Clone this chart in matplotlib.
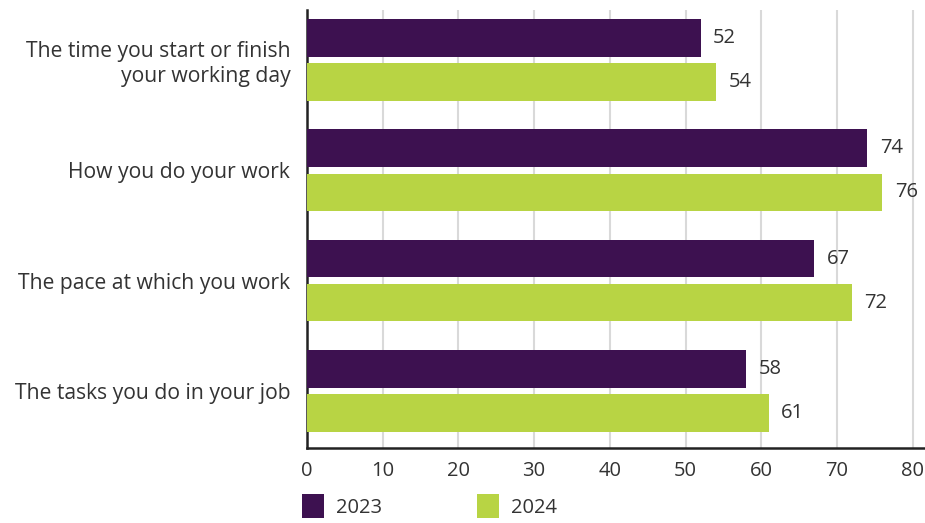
import matplotlib.pyplot as plt
from matplotlib.patches import Patch

categories = ["The time you start or finish\nyour working day",
              "How you do your work",
              "The pace at which you work",
              "The tasks you do in your job"]
series_names = ["2023", "2024"]
values_2023 = [52, 74, 67, 58]
values_2024 = [54, 76, 72, 61]
x_ticks = [0, 10, 20, 30, 40, 50, 60, 70, 80]

purple = "#3d1150"
green = "#b8d444"
text_color = "#333333"
fs = 14.5

plt.rcParams['font.family'] = ['Open Sans', 'DejaVu Sans']

fig = plt.figure(figsize=(9.25, 5.23), dpi=100)
ax = fig.add_axes([307 / 925, 1 - 448 / 523, (925 - 307) / 925, (448 - 10) / 523])

bar_h = 0.34
offset = 0.2
ys = list(range(len(categories)))
for vals, color, sign in [(values_2023, purple, -1), (values_2024, green, 1)]:
    pos = [y + sign * offset for y in ys]
    ax.barh(pos, vals, height=bar_h, color=color, zorder=3)
    for p, v in zip(pos, vals):
        ax.annotate(f"{v}", (v, p), xytext=(9, 0), textcoords="offset points",
                    va="center", ha="left", fontsize=fs, color=text_color)

ax.set_xlim(0, (925 - 307) / 7.57)
ax.set_ylim(3.517, -0.453)
ax.set_xticks(x_ticks)
ax.set_xticklabels([str(t) for t in x_ticks], fontsize=fs, color=text_color)
ax.set_yticks(ys)
ax.set_yticklabels(categories, fontsize=15.2, color=text_color, ha="right",
                   linespacing=1.25)
ax.tick_params(axis="both", length=0)
ax.tick_params(axis="y", pad=12)
ax.tick_params(axis="x", pad=9)

ax.grid(axis="x", color="#d9d9d9", linewidth=1.5, zorder=0)
for s in ["top", "right"]:
    ax.spines[s].set_visible(False)
for s in ["left", "bottom"]:
    ax.spines[s].set_color("#222222")
    ax.spines[s].set_linewidth(1.8)

handles = [Patch(facecolor=purple), Patch(facecolor=green)]
fig.legend(handles, series_names, loc="lower left", bbox_to_anchor=(284 / 925, -0.026),
           ncol=2, frameon=False, fontsize=fs, handlelength=1.1, handleheight=1.5,
           columnspacing=4.7, handletextpad=0.6, labelcolor=text_color)

fig.savefig("out.png", dpi=100)
